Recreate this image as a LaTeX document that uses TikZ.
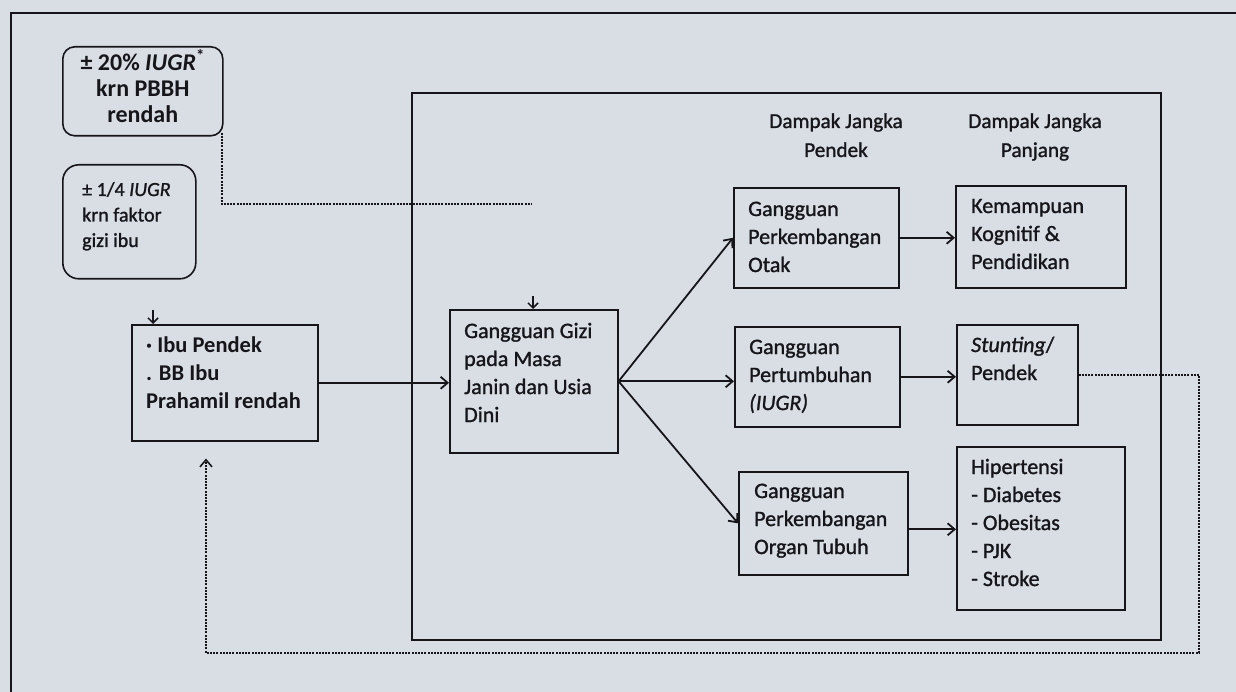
\documentclass[tikz,border=0pt]{standalone}
\usepackage{fontspec}
\setmainfont{Carlito}
\newfontfamily\scanfont{Carlito}[FakeBold=1.2]
\usetikzlibrary{arrows.meta,calc}
\definecolor{paper}{RGB}{216,222,228}
\definecolor{ink}{RGB}{22,22,26}
\begin{document}
\begin{tikzpicture}[x=1pt,y=-1pt,
  box/.style={draw=ink,line width=1.6pt,inner sep=0pt,anchor=north west},
  bigbox/.style={draw=ink,line width=2.1pt,inner sep=0pt,anchor=north west},
  txt/.style={anchor=base west,align=left,inner sep=0pt,text=ink,font=\scanfont\fontsize{22}{28}\selectfont},
  boldtxt/.style={anchor=base west,align=left,inner sep=0pt,text=ink,font=\fontsize{22.5}{28}\selectfont\bfseries},
  hdr/.style={anchor=base,align=center,inner sep=0pt,text=ink,font=\scanfont\fontsize{21.2}{29}\selectfont},
  arr/.style={draw=ink,line width=1.8pt,-{Straight Barb[length=7pt,width=12pt,line width=1.8pt]}},
  smallarr/.style={draw=ink,line width=1.5pt,-{Straight Barb[length=5pt,width=10pt,line width=1.5pt]}},
  dotline/.style={draw=ink,line width=1.8pt,dash pattern=on 2pt off 1.2pt},
  frame/.style={draw=ink,line width=1.8pt}]
\useasboundingbox (0,0) rectangle (1236,692);
\fill[paper] (0,0) rectangle (1236,692);
% outer frame
\draw[frame] (11,692) -- (11,13) -- (1236,13);

% big box
\node[bigbox,minimum width=749pt,minimum height=547pt] (big) at (411,92) {};

% left boxes
\node[box,rounded corners=12pt,minimum width=160pt,minimum height=89pt] (boxA) at (62,46) {};
\node[anchor=base,align=center,inner sep=0pt,text=ink,font=\fontsize{24}{26}\selectfont\bfseries] (boxAT) at ($(boxA.north)+(0,77)$) {± 20\% \textit{IUGR}\textsuperscript{*}\\krn PBBH\\rendah};

\node[box,rounded corners=16pt,minimum width=133pt,minimum height=114pt] (boxB) at (62,164) {};
\node[anchor=base west,align=left,inner sep=0pt,text=ink,font=\scanfont\fontsize{20}{25.5}\selectfont] (boxBT) at ($(boxB.north west)+(20,83)$) {± 1/4 \textit{IUGR}\\krn faktor\\gizi ibu};

\node[box,minimum width=186pt,minimum height=116pt] (boxC) at (131,324) {};
\node[boldtxt] (boxCT) at ($(boxC.north west)+(15,84)$) {· Ibu Pendek\\. BB Ibu\\Prahamil rendah};

% inner boxes
\node[box,minimum width=168pt,minimum height=143pt] (gizi) at (449,309) {};
\node[txt] (giziT) at ($(gizi.north west)+(15,113)$) {Gangguan Gizi\\pada Masa\\Janin dan Usia\\Dini};

\node[hdr] (h1) at (836,157) {Dampak Jangka\\Pendek};
\node[hdr] (h2) at (1035,157) {Dampak Jangka\\Panjang};

\node[box,minimum width=165pt,minimum height=100pt] (otak) at (733,187) {};
\node[txt] (otakT) at ($(otak.north west)+(15,85)$) {Gangguan\\Perkembangan\\Otak};

\node[box,minimum width=170pt,minimum height=102pt] (kog) at (955,185) {};
\node[txt] (kogT) at ($(kog.north west)+(16,84)$) {Kemampuan\\Kognitif \&\\Pendidikan};

\node[box,minimum width=165pt,minimum height=100pt] (tumbuh) at (734,326) {};
\node[txt] (tumbuhT) at ($(tumbuh.north west)+(15,84)$) {Gangguan\\Pertumbuhan\\\textit{(IUGR)}};

\node[box,minimum width=121pt,minimum height=100pt] (stunt) at (956,324) {};
\node[txt] (stuntT) at ($(stunt.north west)+(15,56)$) {\textit{Stunting}/\\Pendek};

\node[box,minimum width=169pt,minimum height=103pt] (organ) at (738,471) {};
\node[txt] (organT) at ($(organ.north west)+(16,83)$) {Gangguan\\Perkembangan\\Organ Tubuh};

\node[box,minimum width=168pt,minimum height=163pt] (hiper) at (956,446) {};
\node[txt] (hiperT) at ($(hiper.north west)+(15,140)$) {Hipertensi\\- Diabetes\\- Obesitas\\- PJK\\- Stroke};

% connectors
\draw[arr] (boxC.east) -- (boxC.east -| gizi.west);
\draw[arr] (gizi.east) -- (otak.west);
\draw[arr] (gizi.east) -- (gizi.east -| tumbuh.west);
\draw[arr] (gizi.east) -- (organ.west);
\draw[arr] (otak.east) -- (otak.east -| kog.west);
\draw[arr] (tumbuh.east) -- (tumbuh.east -| stunt.west);
\draw[arr] ([yshift=-6pt]organ.east) -- ([yshift=-6pt]organ.east -| hiper.west);

% small arrow heads on top of boxes
\coordinate (yC) at (153,310);
\draw[smallarr] (yC) -- (yC |- boxC.north);
\coordinate (yG) at (533,296);
\draw[smallarr] (yG) -- (yG |- gizi.north);

% dotted connectors
\coordinate (dA) at (532,204);
\draw[dotline] ($(boxA.south east)+(-2,-4)$) |- (dA);

\coordinate (fbR) at (1199,653);
\coordinate (fbL) at (206,653);
\draw[dotline,-{Straight Barb[length=7pt,width=12pt,line width=1.6pt]},shorten >=17pt]
  (stunt.east) -- (stunt.east -| fbR) -- (fbR) -- (fbL) -- (fbL |- boxC.south);
\end{tikzpicture}
\end{document}
